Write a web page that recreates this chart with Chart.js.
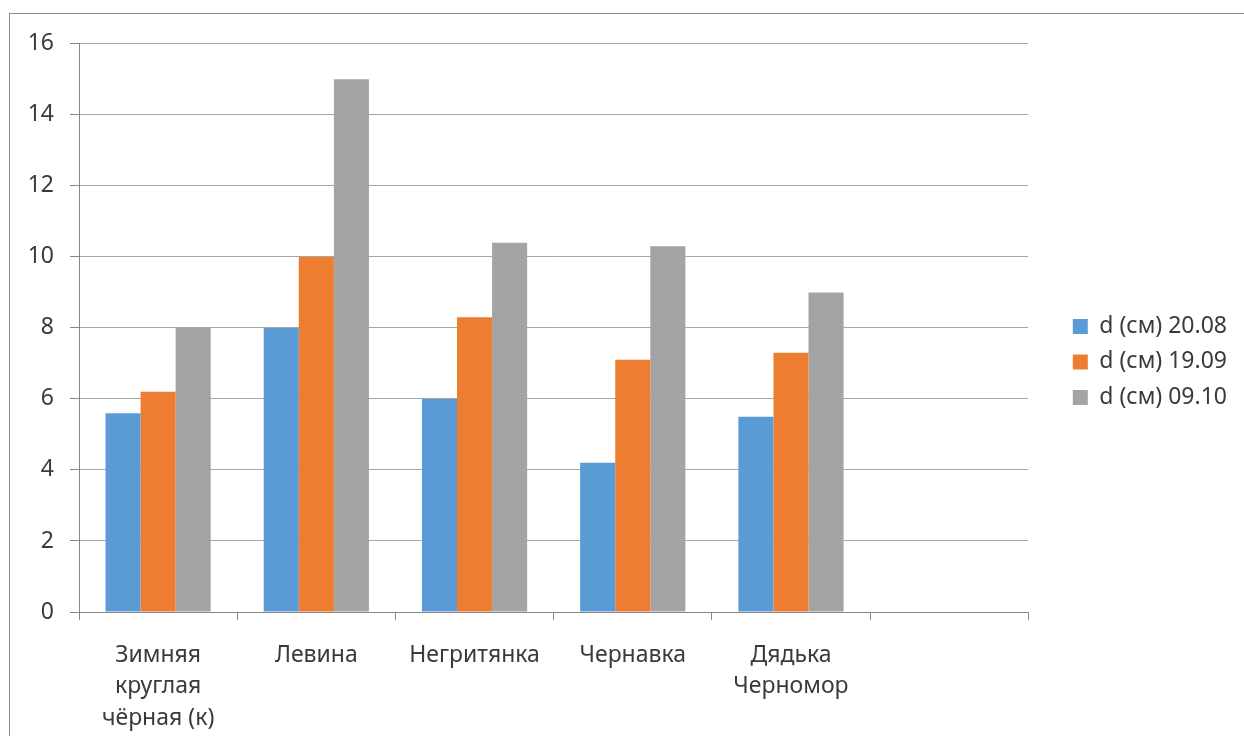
<!DOCTYPE html>
<html>
<head>
<meta charset="utf-8">
<script src="https://cdn.jsdelivr.net/npm/chart.js@4"></script>
<style>
    body { margin: 0; background: #fff; overflow: hidden; }
    #frame {
        position: absolute; left: 9px; top: 13px;
        width: 1240px; height: 730px;
        border: 1px solid #8c8c8c;
    }
    #chart { position: absolute; left: 0; top: 0; }
</style>
</head>
<body>
<div id="frame">
    <canvas id="chart" width="1234" height="722"></canvas>
</div>
<script>
// categories (the last one is empty in the original)
const categories = [
    ["Зимняя", "круглая", "чёрная (к)"],
    "Левина",
    "Негритянка",
    "Чернавка",
    ["Дядька", "Черномор"],
    "",
];
// series names
const seriesNames = ["d (см) 20.08", "d (см) 19.09", "d (см) 09.10"];
// values for each series
const d2008 = [5.6, 8, 6, 4.2, 5.5, null];
const d1909 = [6.2, 10, 8.3, 7.1, 7.3, null];
const d0910 = [8, 15, 10.4, 10.3, 9, null];
// y axis ticks
const yMin = 0;
const yMax = 16;
const yStep = 2;

const textColor = "#3a3a3a";
const axisColor = "#868686";
const font = { family: "'Noto Sans', sans-serif", size: 23 };

// stippled grey fill like the third series in the original
const makeGrey = () => {
    const c = document.createElement("canvas");
    c.width = 2;
    c.height = 2;
    const g = c.getContext("2d");
    g.fillStyle = "#aaaaaa";
    g.fillRect(0, 0, 2, 2);
    g.fillStyle = "#9d9d9d";
    g.fillRect(0, 0, 1, 1);
    g.fillRect(1, 1, 1, 1);
    return g.createPattern(c, "repeat");
};

const context = document.getElementById("chart").getContext("2d");
const chart = new Chart(context, {
    type: "bar",
    data: {
        labels: categories,
        datasets: [
            { label: seriesNames[0], data: d2008, backgroundColor: "#5B9BD5" },
            { label: seriesNames[1], data: d1909, backgroundColor: "#ED7D31" },
            { label: seriesNames[2], data: d0910, backgroundColor: makeGrey() },
        ],
    },
    options: {
        responsive: false,
        animation: false,
        datasets: {
            bar: { categoryPercentage: 0.665, barPercentage: 1 },
        },
        layout: { padding: { top: 28, left: 0, right: 7, bottom: 0 } },
        plugins: {
            legend: {
                position: "right",
                align: "start",
                // empty title only pushes the items down to the middle
                title: { display: true, text: " ", padding: { top: 246, bottom: 0 } },
                labels: {
                    boxWidth: 15,
                    boxHeight: 15,
                    padding: 12.5,
                    color: textColor,
                    font: font,
                },
            },
            tooltip: { enabled: false },
        },
        scales: {
            x: {
                afterFit: (s) => { s.height = 124; },
                grid: {
                    offset: true,
                    drawOnChartArea: false,
                    tickLength: 8,
                    color: axisColor,
                },
                border: { color: axisColor },
                ticks: {
                    color: textColor,
                    font: { ...font, lineHeight: 1.36 },
                    padding: 20,
                    maxRotation: 0,
                    autoSkip: false,
                },
            },
            y: {
                min: yMin,
                max: yMax,
                afterFit: (s) => { s.width = 69; },
                grid: { color: "#a6a6a6", tickLength: 9, tickColor: axisColor },
                border: { color: axisColor },
                ticks: { stepSize: yStep, color: textColor, font: font, padding: 16 },
            },
            // empty axis that keeps the gap between plot and legend
            gap: {
                type: "linear",
                position: "right",
                afterFit: (s) => { s.width = 32; },
                grid: { display: false },
                border: { display: false },
                ticks: { display: false },
            },
        },
    },
});
</script>
</body>
</html>
